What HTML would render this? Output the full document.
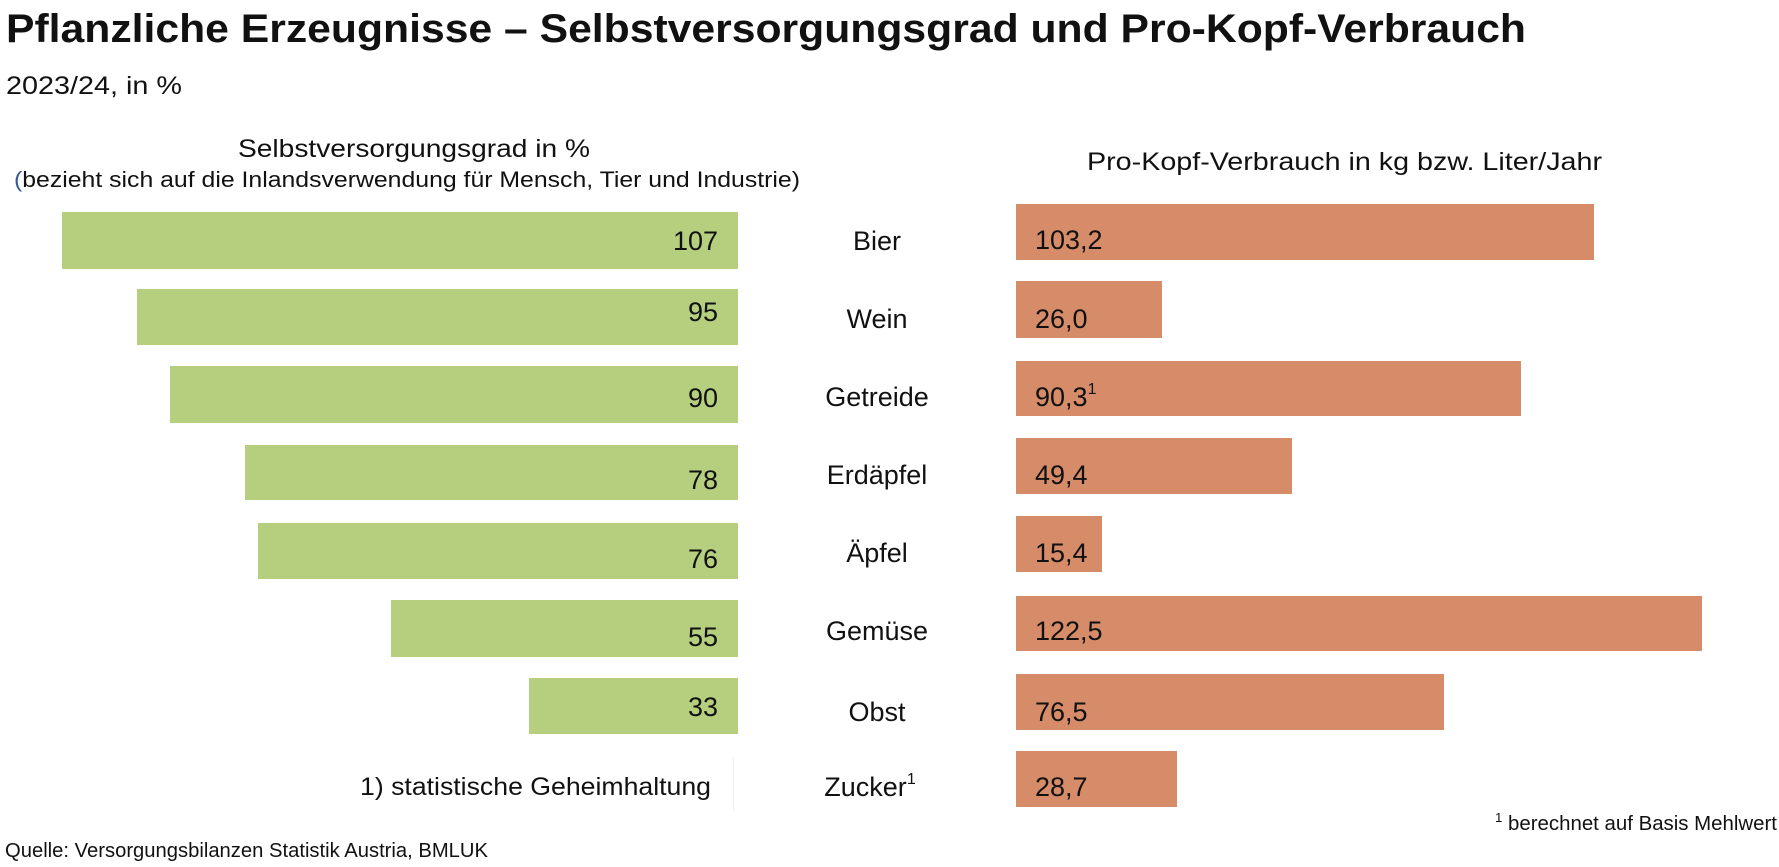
<!DOCTYPE html>
<html><head><meta charset="utf-8"><style>html,body{margin:0;padding:0;background:#fff}svg{display:block}</style></head>
<body>
<svg width="1779" height="867" viewBox="0 0 1779 867" xmlns="http://www.w3.org/2000/svg" font-family="Liberation Sans, sans-serif" fill="#111">
<text x="6" y="42" font-size="40" font-weight="bold" textLength="1520" lengthAdjust="spacingAndGlyphs">Pflanzliche Erzeugnisse – Selbstversorgungsgrad und Pro-Kopf-Verbrauch</text>
<text x="6" y="94" font-size="25" textLength="176" lengthAdjust="spacingAndGlyphs">2023/24, in %</text>
<text x="238" y="157" font-size="25" textLength="352" lengthAdjust="spacingAndGlyphs">Selbstversorgungsgrad in %</text>
<text x="14" y="187" font-size="22" textLength="786" lengthAdjust="spacingAndGlyphs"><tspan fill="#3a5a9a">(</tspan>bezieht sich auf die Inlandsverwendung für Mensch, Tier und Industrie)</text>
<text x="1087" y="170" font-size="25" textLength="515" lengthAdjust="spacingAndGlyphs">Pro-Kopf-Verbrauch in kg bzw. Liter/Jahr</text>
<g fill="#b5cf7f">
<rect x="62" y="212" width="676" height="57"/>
<rect x="137" y="289" width="601" height="56"/>
<rect x="170" y="366" width="568" height="57"/>
<rect x="245" y="445" width="493" height="55"/>
<rect x="258" y="523" width="480" height="56"/>
<rect x="391" y="600" width="347" height="57"/>
<rect x="529" y="678" width="209" height="56"/>
</g>
<g fill="#d68b69">
<rect x="1016" y="204" width="578" height="56"/>
<rect x="1016" y="281" width="146" height="57"/>
<rect x="1016" y="361" width="505" height="55"/>
<rect x="1016" y="438" width="276" height="56"/>
<rect x="1016" y="516" width="86" height="56"/>
<rect x="1016" y="596" width="686" height="55"/>
<rect x="1016" y="674" width="428" height="56"/>
<rect x="1016" y="751" width="161" height="56"/>
</g>
<g font-size="27" text-anchor="end">
<text x="718" y="250">107</text>
<text x="718" y="321">95</text>
<text x="718" y="407">90</text>
<text x="718" y="489">78</text>
<text x="718" y="568">76</text>
<text x="718" y="646">55</text>
<text x="718" y="716">33</text>
</g>
<g font-size="27" text-anchor="middle">
<text x="877" y="250">Bier</text>
<text x="877" y="328">Wein</text>
<text x="877" y="406">Getreide</text>
<text x="877" y="484">Erdäpfel</text>
<text x="877" y="562">Äpfel</text>
<text x="877" y="640">Gemüse</text>
<text x="877" y="721">Obst</text>
<text x="870" y="796">Zucker<tspan font-size="16" dy="-12">1</tspan></text>
</g>
<g font-size="27">
<text x="1035" y="249">103,2</text>
<text x="1035" y="328">26,0</text>
<text x="1035" y="406">90,3<tspan font-size="16" dy="-12">1</tspan></text>
<text x="1035" y="484">49,4</text>
<text x="1035" y="562">15,4</text>
<text x="1035" y="640">122,5</text>
<text x="1035" y="721">76,5</text>
<text x="1035" y="796">28,7</text>
</g>
<line x1="733.5" y1="758" x2="733.5" y2="811" stroke="#eee" stroke-width="1"/>
<text x="360" y="795" font-size="25" textLength="351" lengthAdjust="spacingAndGlyphs">1) statistische Geheimhaltung</text>
<text x="1495" y="830" font-size="20" textLength="282" lengthAdjust="spacingAndGlyphs"><tspan font-size="13" dy="-8">1</tspan><tspan dy="8"> berechnet auf Basis Mehlwert</tspan></text>
<text x="5" y="857" font-size="20" textLength="483" lengthAdjust="spacingAndGlyphs">Quelle: Versorgungsbilanzen Statistik Austria, BMLUK</text>
</svg>
</body></html>
